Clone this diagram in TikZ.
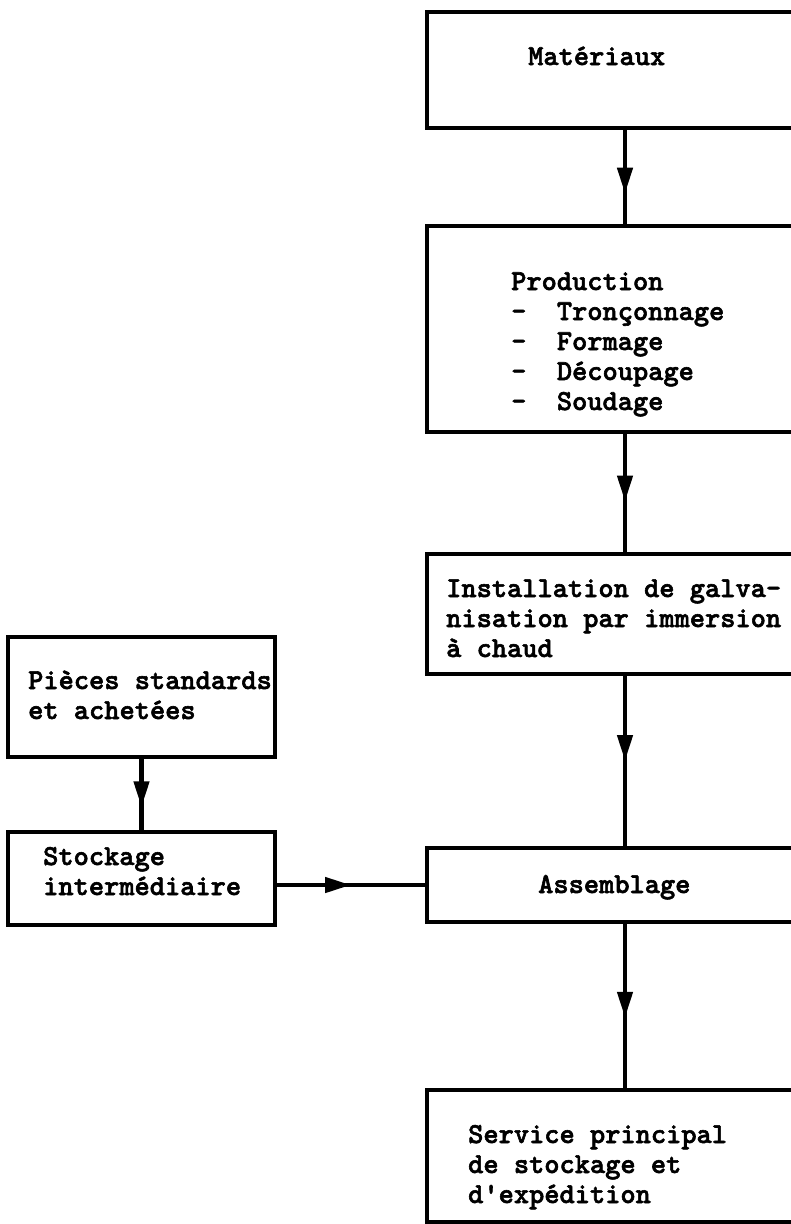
\documentclass[tikz,border=0pt]{standalone}
\usepackage{fontspec}
\newfontfamily\typefont{lmmonolt10-bold.otf}[FakeBold=2]
\usetikzlibrary{arrows.meta,decorations.markings}

\begin{document}
\begin{tikzpicture}[x=1pt, y=-1pt, line join=miter]

% --- Stijlen ---
\tikzset{
    box/.style={
        draw=black,
        line width=4.5pt,
        rectangle,
        inner sep=0pt,
        outer sep=0pt,
        anchor=north west
    },
    % meerregelige tekst: ankerpunt ligt op de basislijn van de laatste regel
    boxtext/.style={
        font=\typefont\fontsize{29}{30}\selectfont,
        align=left,
        inner sep=0pt,
        anchor=base west
    },
    flow/.style={
        line width=4.5pt,
        postaction={decorate},
        decoration={markings,
            mark=at position #1 with {\arrow{Triangle[width=15pt,length=26pt]}}}
    }
}

% --- Paginagrootte; rechterkolom loopt over de rand ---
\useasboundingbox (0,0) rectangle (791,1224);
\clip (0,0) rectangle (791,1224);

% --- Rechterkolom: hoofdstroom ---
\node[box, minimum width=396pt, minimum height=116pt] (mat)  at (427,12)   {};
\node[box, minimum width=396pt, minimum height=206pt] (prod) at (427,226)  {};
\node[box, minimum width=396pt, minimum height=120pt] (inst) at (427,554)  {};
\node[box, minimum width=396pt, minimum height=74pt]  (asm)  at (427,848)  {};
\node[box, minimum width=396pt, minimum height=132pt] (serv) at (427,1090) {};

% --- Linkerkolom: aangekochte delen ---
\node[box, minimum width=267pt, minimum height=120pt] (pcs) at (8,637) {};
\node[box, minimum width=267pt, minimum height=93pt]  (stk) at (8,832) {};

% --- Teksten ---
\node[boxtext] (matT)  at (528,65)  {Matériaux};
\node[boxtext] (prodT) at (511,410) {Production\\
    -~~Tronçonnage\\
    -~~Formage\\
    -~~Découpage\\
    -~~Soudage};
\node[boxtext] (instT) at (446,657) {Installation de galva-\\
    nisation par immersion\\
    à chaud};
\node[boxtext] (asmT)  at (538,893) {Assemblage};
\node[boxtext] (servT) at (468,1203) {Service principal\\
    de stockage et\\
    d'expédition};
\node[boxtext] (pcsT)  at (28,719)  {Pièces standards\\
    et achetées};
\node[boxtext] (stkT)  at (43,895)  {Stockage\\
    intermédiaire};

% --- Pijlen ---
\draw[flow=0.67] (mat.south)  -- (prod.north);
\draw[flow=0.57] (prod.south) -- (inst.north);
\draw[flow=0.50] (inst.south) -- (asm.north);
\draw[flow=0.57] (asm.south)  -- (serv.north);
\draw[flow=0.67] (pcs.south)  -- (pcs.south |- stk.north);
\draw[flow=0.50] (asm.west -| stk.east) -- (asm.west);

\end{tikzpicture}
\end{document}
